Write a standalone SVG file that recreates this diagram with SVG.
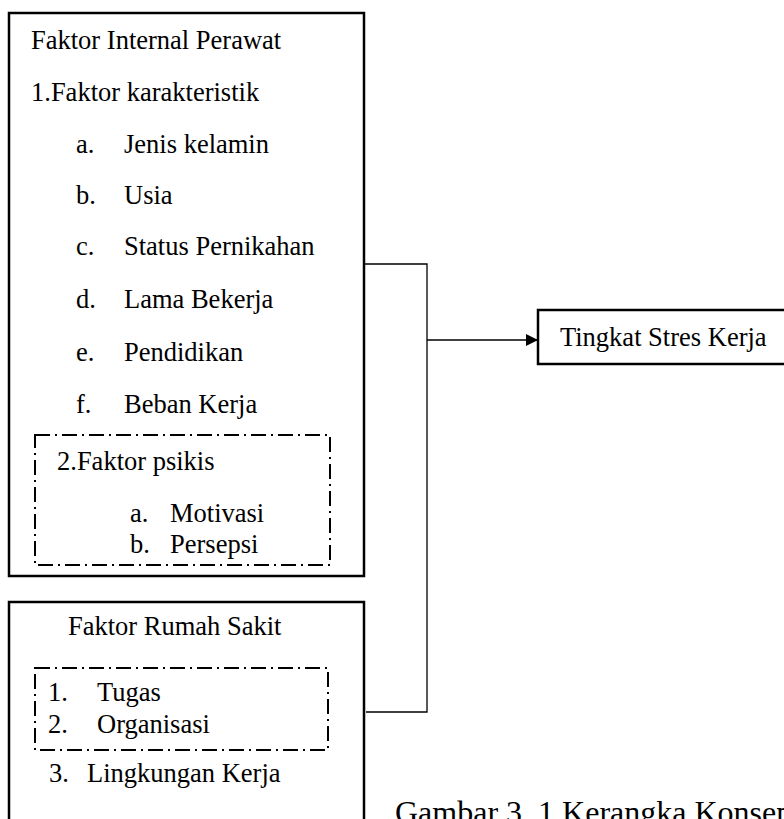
<svg xmlns="http://www.w3.org/2000/svg" width="784" height="819" viewBox="0 0 784 819">
<style>
text{font-family:"Liberation Serif","Times New Roman",serif;font-size:26.5px;fill:#000}
.box{fill:#fff;stroke:#000;stroke-width:2.5}
.dash{fill:none;stroke:#000;stroke-width:2;stroke-dasharray:15 5 2 5}
.conn{fill:none;stroke:#000;stroke-width:1.3}
.cap{font-size:32px}
</style>
<defs>
<marker id="arr" markerWidth="12" markerHeight="12" refX="12" refY="6" orient="auto" markerUnits="userSpaceOnUse">
<path d="M0,0 L12,6 L0,12 Z" fill="#000"/>
</marker>
</defs>
<rect width="784" height="819" fill="#fff"/>
<g id="connectors">
<polyline class="conn" points="365,264 427,264 427,712 366,712"/>
<line class="conn" x1="427" y1="340" x2="538" y2="340" marker-end="url(#arr)"/>
</g>
<g id="internal">
<rect class="box" x="9" y="13" width="355" height="563"/>
<text x="31" y="49">Faktor Internal Perawat</text>
<text x="31" y="101">1.Faktor karakteristik</text>
<text x="76" y="153">a.</text><text x="124" y="153">Jenis kelamin</text>
<text x="76" y="204">b.</text><text x="124" y="204">Usia</text>
<text x="76" y="255">c.</text><text x="124" y="255">Status Pernikahan</text>
<text x="76" y="308">d.</text><text x="124" y="308">Lama Bekerja</text>
<text x="76" y="361">e.</text><text x="124" y="361">Pendidikan</text>
<text x="76" y="413">f.</text><text x="124" y="413">Beban Kerja</text>
<g id="psikis">
<rect class="dash" x="35" y="435" width="295" height="130"/>
<text x="57" y="470">2.Faktor psikis</text>
<text x="130" y="522">a.</text><text x="170" y="522">Motivasi</text>
<text x="130" y="553">b.</text><text x="170" y="553">Persepsi</text>
</g>
</g>
<g id="rumahsakit">
<rect class="box" x="9" y="602" width="355" height="240"/>
<text x="68" y="635">Faktor Rumah Sakit</text>
<g id="tugas-organisasi">
<rect class="dash" x="35" y="668" width="293" height="82"/>
<text x="48" y="701">1.</text><text x="97" y="701">Tugas</text>
<text x="48" y="733">2.</text><text x="97" y="733">Organisasi</text>
</g>
<text x="49" y="782">3.</text><text x="87" y="782">Lingkungan Kerja</text>
</g>
<g id="stres">
<rect class="box" x="538" y="310" width="260" height="54"/>
<text x="560" y="346">Tingkat Stres Kerja</text>
</g>
<text class="cap" x="395" y="823">Gambar 3. 1 Kerangka Konsep</text>
</svg>
